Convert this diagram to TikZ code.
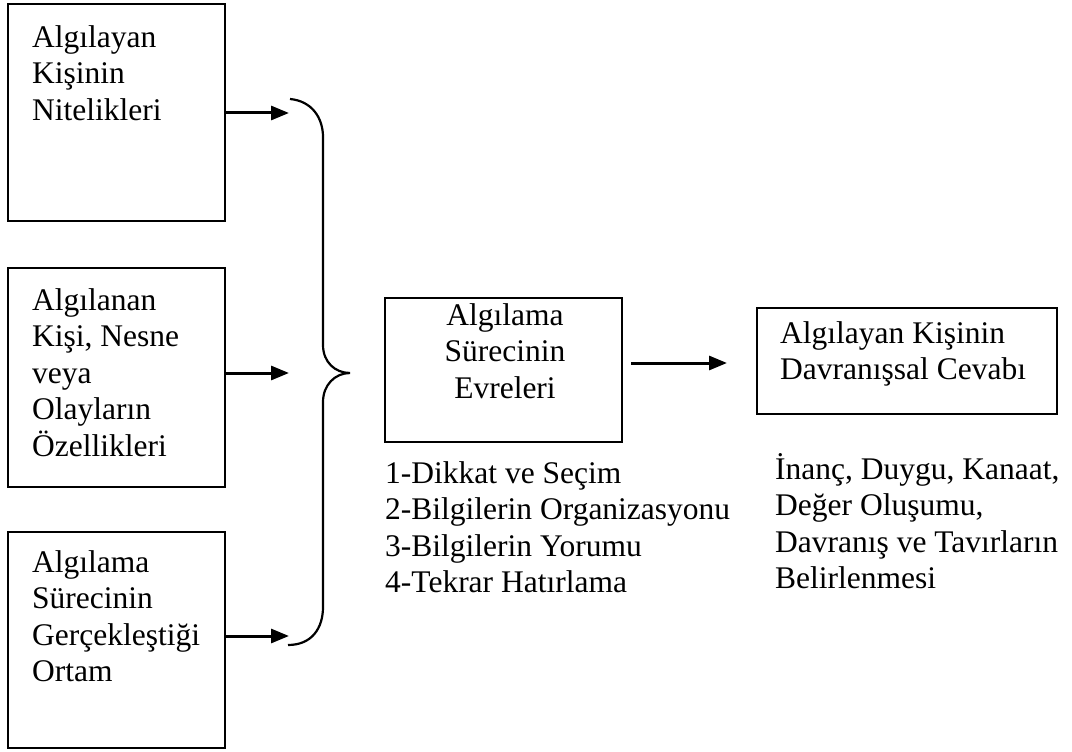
\documentclass[tikz,border=0pt]{standalone}
\usepackage{fontspec}
\setmainfont{Liberation Serif}
\usetikzlibrary{arrows.meta,calc}

\begin{document}
\begin{tikzpicture}
  [x=1pt,y=-1pt,
   box/.style={draw,line width=2pt,inner sep=0pt},
   txt/.style={inner sep=0pt,align=left,font=\fontsize{31.5}{36.5}\selectfont},
   arr/.style={line width=3pt,-{Triangle[length=18pt,width=14pt]}}]
  \useasboundingbox (0,0) rectangle (1072,752);

  % left boxes
  \node (b1) [box,minimum width=217pt,minimum height=217pt] at (116.5,112.5) {};
  \node (b2) [box,minimum width=217pt,minimum height=219pt] at (116.5,377.5) {};
  \node (b3) [box,minimum width=217pt,minimum height=216pt] at (116.5,640) {};
  \node (t1) [txt,anchor=north west] at (32,25) {Algılayan\\Kişinin\\Nitelikleri};
  \node (t2) [txt,anchor=north west] at (32,288) {Algılanan\\Kişi, Nesne\\veya\\Olayların\\Özellikleri};
  \node (t3) [txt,anchor=north west] at (32,550) {Algılama\\Sürecinin\\Gerçekleştiği\\Ortam};

  % middle and right boxes
  \node (mid) [box,minimum width=237pt,minimum height=144pt] at (503.5,370) {};
  \node (tm) [txt,align=center,anchor=north] at (505,303) {Algılama\\Sürecinin\\Evreleri};
  \node (resp) [box,minimum width=300pt,minimum height=106pt] at (907,361) {};
  \node (tr) [txt,anchor=north west] at (780,321) {Algılayan Kişinin\\Davranışsal Cevabı};

  % lists below
  \node (steps) [txt,anchor=north west] at (385,461) {1-Dikkat ve Seçim\\2-Bilgilerin Organizasyonu\\3-Bilgilerin Yorumu\\4-Tekrar Hatırlama};
  \node (res) [txt,anchor=north west] at (775,453) {İnanç, Duygu, Kanaat,\\Değer Oluşumu,\\Davranış ve Tavırların\\Belirlenmesi};

  % brace
  \coordinate (c1) at (289,113);
  \coordinate (c2) at (289,373);
  \coordinate (c3) at (289,636);
  \coordinate (tip) at (350,373);
  \draw[line width=2.2pt] (290,99) .. controls (312,101) and (323,118) .. (323,137)
    -- (323,345) .. controls (323,362) and (335,373) .. (tip)
    .. controls (335,373) and (323,385) .. (323,402)
    -- (323,607) .. controls (323,628) and (312,645) .. (288,645);

  \foreach \from/\to in {b1/c1,b2/c2,b3/c3}
    \draw[arr] (\from.east |- \to) -- (\to);
  \draw[arr] ([xshift=8pt]mid.east |- 0,363) -- ([xshift=-29pt]resp.west |- 0,363);

\end{tikzpicture}
\end{document}
